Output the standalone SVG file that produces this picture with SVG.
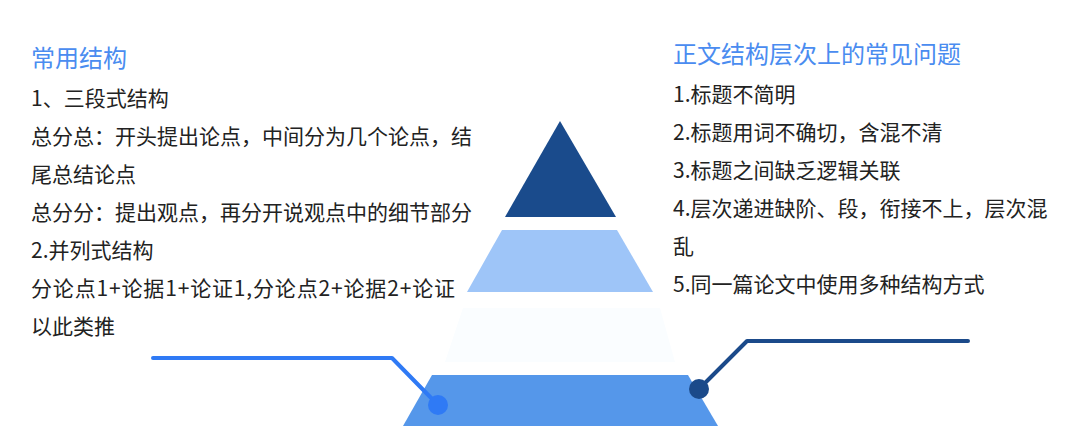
<svg xmlns="http://www.w3.org/2000/svg" width="1068" height="437" viewBox="0 0 1068 437">
<style>
text{font-family:"Noto Sans CJK SC","Noto Sans",sans-serif;fill:#222;font-size:21px}
.title{fill:#4a8cf0;font-size:24px}
.lc{fill:none;stroke-width:4;stroke-linecap:round;stroke-linejoin:round}
</style>
<rect width="1068" height="437" fill="#fff"/>
<g id="pyramid">
<g id="tier1"><polygon points="560,121 616,217 505,217" fill="#1a4b8c"/></g>
<g id="tier2"><polygon points="502,230 617,230 653,292 467,292" fill="#9ec5f8"/></g>
<g id="tier3"><polygon points="463,308 660,308 675,362 445,362" fill="#fafdff"/></g>
<g id="tier4"><polygon points="432,375 688,375 718,426 403,426" fill="#5597ea"/></g>
</g>
<g id="connectors">
<polyline class="lc" points="153,358 392,358 438,405" stroke="#2f7af5"/>
<circle cx="438" cy="405" r="10" fill="#2f7af5"/>
<polyline class="lc" points="699,389 747,341 968,341" stroke="#1b4a8a"/>
<circle cx="699" cy="389" r="10" fill="#1b4a8a"/>
</g>
<g id="left-text">
<text class="title" x="31" y="67">常用结构</text>
<text x="31" y="106">1、三段式结构</text>
<text x="31" y="144">总分总：开头提出论点，中间分为几个论点，结</text>
<text x="31" y="182">尾总结论点</text>
<text x="31" y="220">总分分：提出观点，再分开说观点中的细节部分</text>
<text x="31" y="258">2.并列式结构</text>
<text x="31" y="296" textLength="424" lengthAdjust="spacing">分论点1+论据1+论证1,分论点2+论据2+论证</text>
<text x="31" y="334">以此类推</text>
</g>
<g id="right-text">
<text class="title" x="673" y="63">正文结构层次上的常见问题</text>
<text x="673" y="102">1.标题不简明</text>
<text x="673" y="140">2.标题用词不确切，含混不清</text>
<text x="673" y="178">3.标题之间缺乏逻辑关联</text>
<text x="673" y="216">4.层次递进缺阶、段，衔接不上，层次混</text>
<text x="673" y="254">乱</text>
<text x="673" y="292">5.同一篇论文中使用多种结构方式</text>
</g>
</svg>
